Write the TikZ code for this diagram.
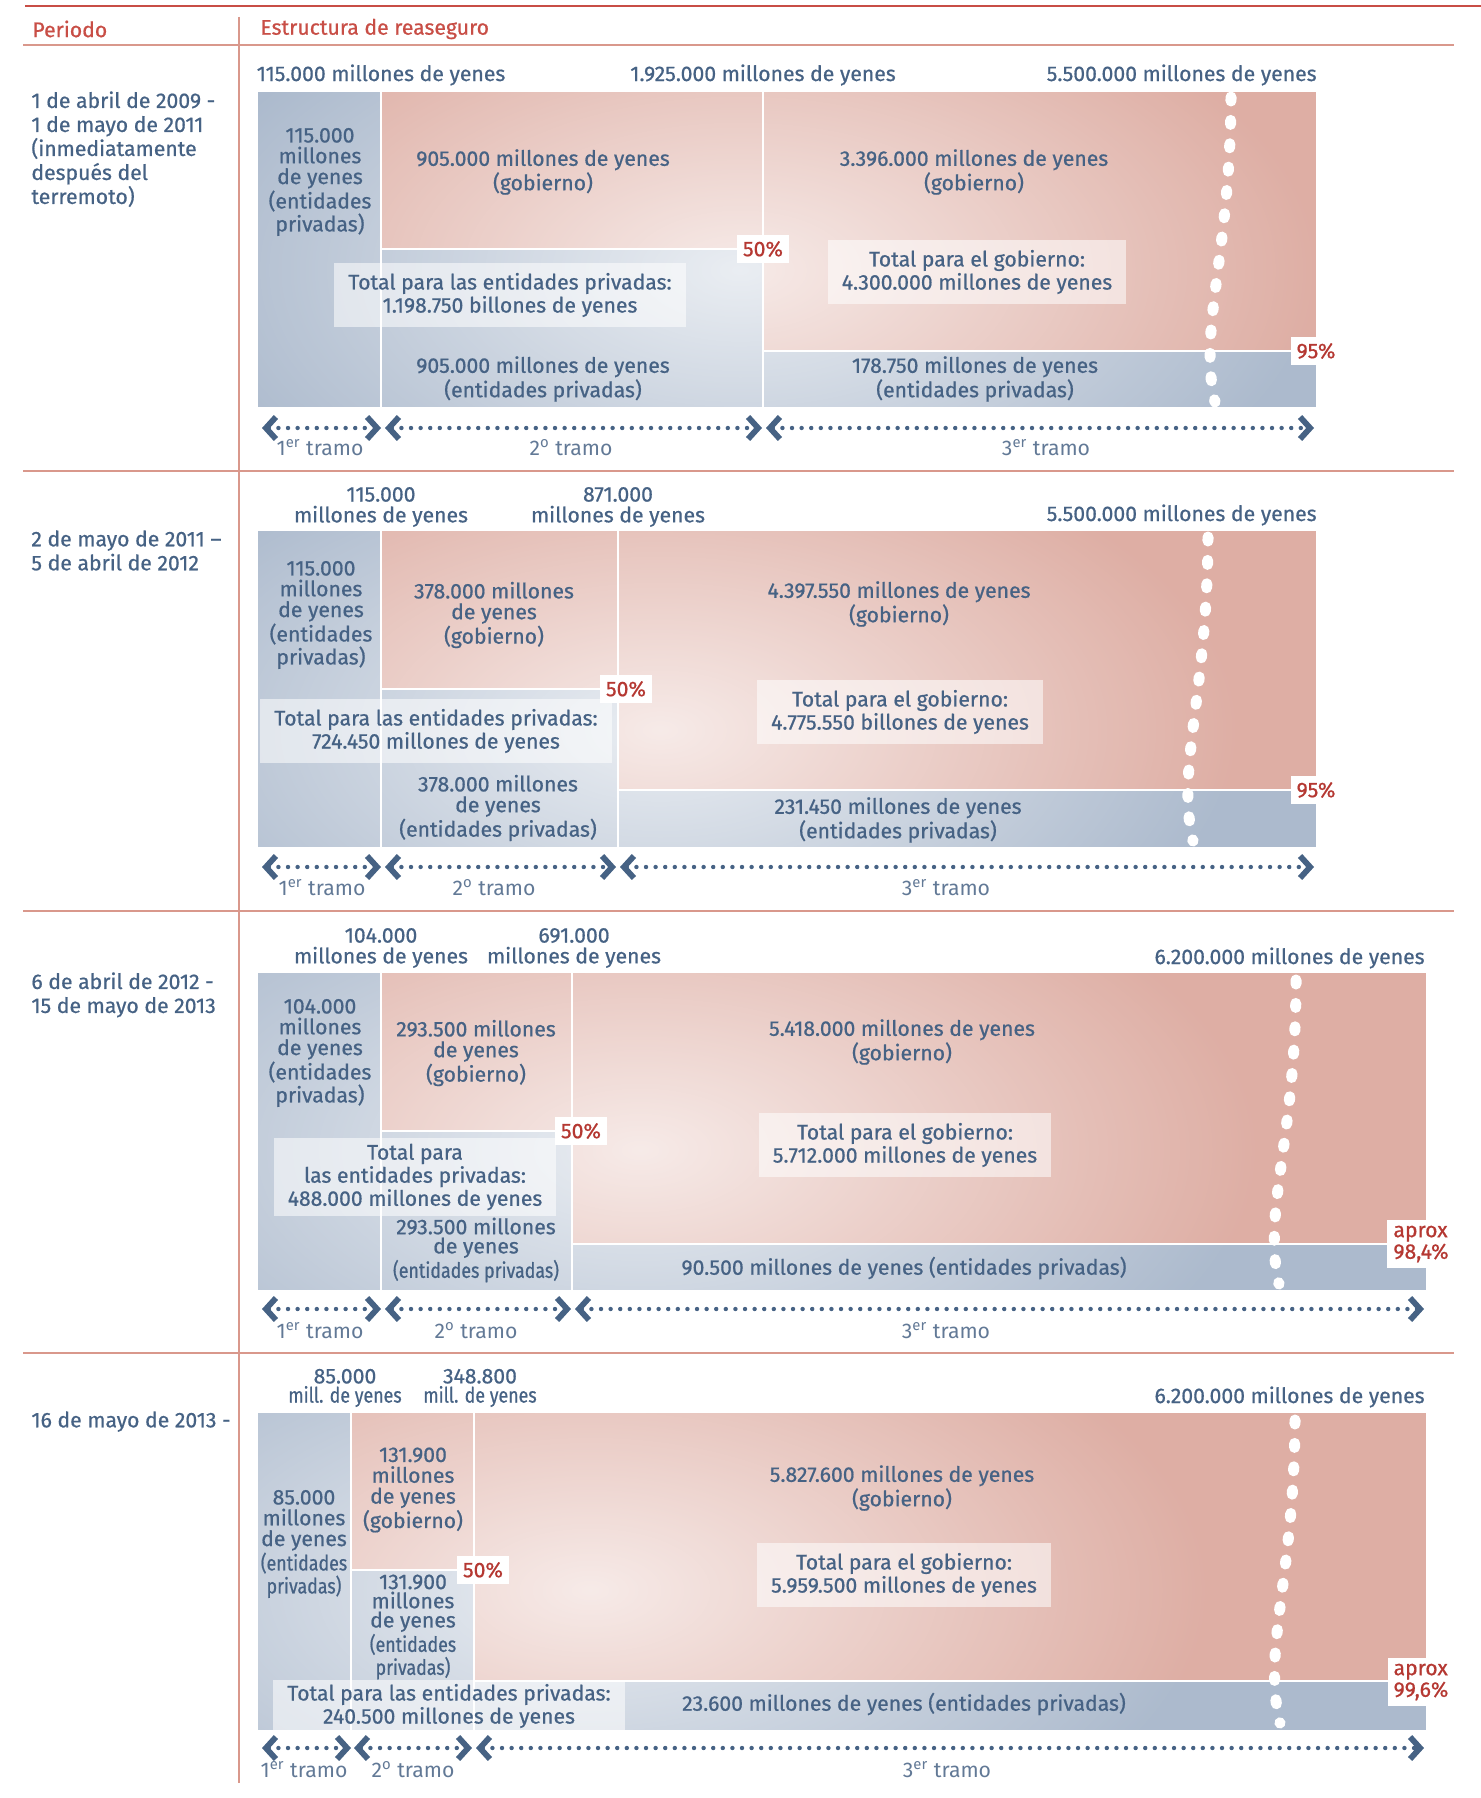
\documentclass[tikz,border=0pt]{standalone}
\usepackage{fontspec}
\setmainfont{Fira Sans}[FakeBold=0.7]
\newfontfamily\narrowfont{Fira Sans}[FakeStretch=0.84, FakeBold=0.7]
\newfontfamily\lightfont{Fira Sans}
\usetikzlibrary{arrows.meta}
\usetikzlibrary{fadings}
\definecolor{privblue}{RGB}{172,186,205}
\definecolor{govpink}{RGB}{222,174,164}
\definecolor{inkblue}{RGB}{70,98,132}
\definecolor{tramoblue}{RGB}{98,121,150}
\definecolor{pctred}{RGB}{181,56,50}
\definecolor{rulered}{RGB}{200,78,70}
\definecolor{rulepink}{RGB}{217,152,140}
\tikzfading[name=glow, inner color=transparent!25, outer color=transparent!100]
\tikzset{
  every node/.style={
    text=inkblue,
    inner sep=0pt,
  },
  txt/.style={
    align=center,
    font=\fontsize{10.6}{10.4}\selectfont,
  },
  tight/.style={
    txt,
    font=\fontsize{10.6}{9.6}\selectfont,
  },
  period/.style={
    align=left,
    anchor=north west,
    font=\fontsize{10.6}{12}\selectfont,
  },
  head/.style={
    anchor=west,
    text=rulered,
    font=\fontsize{10.6}{12}\selectfont,
  },
  totalbox/.style={
    txt,
    fill=white,
    fill opacity=.55,
    text opacity=1,
    inner xsep=7pt,
    inner ysep=5pt,
  },
  pct/.style={
    fill=white,
    text=pctred,
    inner xsep=3pt,
    inner ysep=3pt,
    font=\fontsize{10.6}{10}\selectfont,
  },
  approx/.style={
    pct,
    align=left,
    font=\fontsize{10.6}{9.4}\selectfont,
  },
  priv/.style={fill=privblue},
  gov/.style={fill=govpink},
  split/.style={draw=white, line width=1.3pt},
  dots/.style={
    draw=white,
    line width=5.5pt,
    line cap=round,
    dash pattern=on 2pt off 9.7pt,
  },
  span/.style={
    draw=inkblue,
    line width=2.2pt,
    line cap=round,
    dash pattern=on 0pt off 4.8pt,
    >={Straight Barb[length=5pt,width=11pt,line width=0.7pt 1]},
    <->,
  },
  tramo/.style={
    text=tramoblue,
    font=\lightfont\fontsize{10.6}{10}\selectfont,
  },
  rule/.style={draw=rulepink, line width=1.2pt},
}
\begin{document}
\begin{tikzpicture}[x=0.5pt, y=-0.5pt]
  \useasboundingbox (0,0) rectangle (1481,1798);
  % header
  \draw[rulered, line width=0.8pt] (25,6) -- (1481,6);
  \node[head] (hper) at (32,29) {Periodo};
  \node[head] (hest) at (260,29) {Estructura de reaseguro};
  \draw[rule] (23,45) -- (1454,45) (23,471) -- (1454,471)
    (23,911) -- (1454,911) (23,1353) -- (1454,1353);
  \draw[rule] (239,17) -- (239,1783);

  % 2009 - 2011
  \node[period] (per1) at (31,91) {1 de abril de 2009 -\\1 de mayo de 2011\\(inmediatamente\\después del\\terremoto)};
  \fill[priv] (258,92) rectangle (1316,407);
  \fill[gov] (381,92) rectangle (763,249);
  \fill[gov] (763,92) rectangle (1316,351);
  \begin{scope}
    \clip (258,92) rectangle (1316,407);
    \fill[white, path fading=glow] (740,270) ellipse (580 and 310);
  \end{scope}
  \draw[split] (381,92) -- (381,407) (763,92) -- (763,407)
    (381,249) -- (763,249) (763,351) -- (1316,351);
  \node[txt] (top1a) at (381,75) {115.000 millones de yenes};
  \node[txt] (top1b) at (763,75) {1.925.000 millones de yenes};
  \node[txt, anchor=east] (top1c) at (1317,75) {5.500.000 millones de yenes};
  \node[txt] (priv1a) at (320,182) {115.000\\millones\\de yenes\\(entidades\\privadas)};
  \node[txt] (gov1b) at (543,172) {905.000 millones de yenes\\(gobierno)};
  \node[totalbox] (tot1p) at (510,295) {Total para las entidades privadas:\\1.198.750 billones de yenes};
  \node[txt] (priv1b) at (543,379) {905.000 millones de yenes\\(entidades privadas)};
  \node[txt] (gov1c) at (974,172) {3.396.000 millones de yenes\\(gobierno)};
  \node[totalbox] (tot1g) at (977,272) {Total para el gobierno:\\4.300.000 millones de yenes};
  \node[txt] (priv1c) at (975,379) {178.750 millones de yenes\\(entidades privadas)};
  \draw[dots] (1231,97) .. controls (1230,258) and (1198,329) .. (1215,402);
  \node[pct] (pc1a) at (763,249) {50\%};
  \node[pct] (pc1b) at (1316,351) {95\%};
  \coordinate (s1a) at (262,428);
  \coordinate (s1b) at (381,428);
  \coordinate (s1c) at (385,428);
  \coordinate (s1d) at (762,428);
  \coordinate (s1e) at (766,428);
  \coordinate (s1f) at (1314,428);
  \draw[span] (s1a) -- (s1b);
  \draw[span] (s1c) -- (s1d);
  \draw[span] (s1e) -- (s1f);
  \node[tramo] (tr1a) at (320,448) {1\textsuperscript{er} tramo};
  \node[tramo] (tr1b) at (571,448) {2\textsuperscript{o} tramo};
  \node[tramo] (tr1c) at (1046,448) {3\textsuperscript{er} tramo};

  % 2011 - 2012
  \node[period] (per2) at (31,530) {2 de mayo de 2011 –\\5 de abril de 2012};
  \fill[priv] (258,531) rectangle (1316,847);
  \fill[gov] (381,531) rectangle (618,689);
  \fill[gov] (618,531) rectangle (1316,790);
  \begin{scope}
    \clip (258,531) rectangle (1316,847);
    \fill[white, path fading=glow] (660,730) ellipse (580 and 310);
  \end{scope}
  \draw[split] (381,531) -- (381,847) (618,531) -- (618,847)
    (381,689) -- (618,689) (618,790) -- (1316,790);
  \node[txt] (top2a) at (381,507) {115.000\\millones de yenes};
  \node[txt] (top2b) at (618,507) {871.000\\millones de yenes};
  \node[txt, anchor=east] (top2c) at (1317,515) {5.500.000 millones de yenes};
  \node[txt] (priv2a) at (321,615) {115.000\\millones\\de yenes\\(entidades\\privadas)};
  \node[txt] (gov2b) at (494,615) {378.000 millones\\de yenes\\(gobierno)};
  \node[totalbox] (tot2p) at (436,731) {Total para las entidades privadas:\\724.450 millones de yenes};
  \node[txt] (priv2b) at (498,808) {378.000 millones\\de yenes\\(entidades privadas)};
  \node[txt] (gov2c) at (899,604) {4.397.550 millones de yenes\\(gobierno)};
  \node[totalbox] (tot2g) at (900,712) {Total para el gobierno:\\4.775.550 billones de yenes};
  \node[txt] (priv2c) at (898,820) {231.450 millones de yenes\\(entidades privadas)};
  \draw[dots] (1208,537) .. controls (1207,698) and (1176,768) .. (1193,841);
  \node[pct] (pc2a) at (626,689) {50\%};
  \node[pct] (pc2b) at (1316,790) {95\%};
  \coordinate (s2a) at (262,867);
  \coordinate (s2b) at (381,867);
  \coordinate (s2c) at (385,867);
  \coordinate (s2d) at (616,867);
  \coordinate (s2e) at (620,867);
  \coordinate (s2f) at (1314,867);
  \draw[span] (s2a) -- (s2b);
  \draw[span] (s2c) -- (s2d);
  \draw[span] (s2e) -- (s2f);
  \node[tramo] (tr2a) at (322,888) {1\textsuperscript{er} tramo};
  \node[tramo] (tr2b) at (494,888) {2\textsuperscript{o} tramo};
  \node[tramo] (tr2c) at (946,888) {3\textsuperscript{er} tramo};

  % 2012 - 2013
  \node[period] (per3) at (31,972) {6 de abril de 2012 -\\15 de mayo de 2013};
  \fill[priv] (258,973) rectangle (1426,1290);
  \fill[gov] (381,973) rectangle (572,1131);
  \fill[gov] (572,973) rectangle (1426,1244);
  \begin{scope}
    \clip (258,973) rectangle (1426,1290);
    \fill[white, path fading=glow] (640,1150) ellipse (620 and 320);
  \end{scope}
  \draw[split] (381,973) -- (381,1290) (572,973) -- (572,1290)
    (381,1131) -- (572,1131) (572,1244) -- (1426,1244);
  \node[txt] (top3a) at (381,948) {104.000\\millones de yenes};
  \node[txt] (top3b) at (574,948) {691.000\\millones de yenes};
  \node[txt, anchor=east] (top3c) at (1425,958) {6.200.000 millones de yenes};
  \node[txt] (priv3a) at (320,1053) {104.000\\millones\\de yenes\\(entidades\\privadas)};
  \node[txt] (gov3b) at (476,1053) {293.500 millones\\de yenes\\(gobierno)};
  \node[totalbox, font=\fontsize{10.6}{9.6}\selectfont, inner ysep=3pt] (tot3p) at (415,1177) {Total para\\las entidades privadas:\\488.000 millones de yenes};
  \node[tight] (priv3b) at (476,1250) {293.500 millones\\de yenes\\{\narrowfont(entidades privadas)}};
  \node[txt] (gov3c) at (902,1042) {5.418.000 millones de yenes\\(gobierno)};
  \node[totalbox] (tot3g) at (905,1145) {Total para el gobierno:\\5.712.000 millones de yenes};
  \node[txt] (priv3c) at (904,1268) {90.500 millones de yenes (entidades privadas)};
  \draw[dots] (1296,980) .. controls (1296,1141) and (1262,1211) .. (1279,1284);
  \node[pct] (pc3a) at (581,1131) {50\%};
  \node[approx] (pc3b) at (1421,1244) {aprox\\98,4\%};
  \coordinate (s3a) at (262,1309);
  \coordinate (s3b) at (381,1309);
  \coordinate (s3c) at (385,1309);
  \coordinate (s3d) at (571,1309);
  \coordinate (s3e) at (575,1309);
  \coordinate (s3f) at (1424,1309);
  \draw[span] (s3a) -- (s3b);
  \draw[span] (s3c) -- (s3d);
  \draw[span] (s3e) -- (s3f);
  \node[tramo] (tr3a) at (320,1331) {1\textsuperscript{er} tramo};
  \node[tramo] (tr3b) at (476,1331) {2\textsuperscript{o} tramo};
  \node[tramo] (tr3c) at (946,1331) {3\textsuperscript{er} tramo};

  % 2013 -
  \node[period] (per4) at (31,1411) {16 de mayo de 2013 -};
  \fill[priv] (258,1413) rectangle (1426,1730);
  \fill[gov] (351,1413) rectangle (474,1570);
  \fill[gov] (474,1413) rectangle (1426,1681);
  \begin{scope}
    \clip (258,1413) rectangle (1426,1730);
    \fill[white, path fading=glow] (590,1590) ellipse (620 and 320);
  \end{scope}
  \draw[split] (351,1413) -- (351,1730) (474,1413) -- (474,1730)
    (351,1570) -- (474,1570) (474,1681) -- (1426,1681);
  \node[tight] (top4a) at (345,1388) {85.000\\{\narrowfont mill. de yenes}};
  \node[tight] (top4b) at (480,1388) {348.800\\{\narrowfont mill. de yenes}};
  \node[txt, anchor=east] (top4c) at (1425,1397) {6.200.000 millones de yenes};
  \node[txt] (priv4a) at (304,1544) {85.000\\millones\\de yenes\\{\narrowfont(entidades}\\{\narrowfont privadas)}};
  \node[txt] (gov4b) at (413,1490) {131.900\\millones\\de yenes\\(gobierno)};
  \node[tight] (priv4b) at (413,1627) {131.900\\millones\\de yenes\\{\narrowfont(entidades}\\{\narrowfont privadas)}};
  \node[txt] (gov4c) at (902,1488) {5.827.600 millones de yenes\\(gobierno)};
  \node[totalbox] (tot4g) at (904,1575) {Total para el gobierno:\\5.959.500 millones de yenes};
  \node[totalbox, inner ysep=2pt, minimum width=175pt, minimum height=24pt] (tot4p) at (449,1706) {Total para las entidades privadas:\\240.500 millones de yenes};
  \node[txt] (priv4c) at (904,1704) {23.600 millones de yenes (entidades privadas)};
  \draw[dots] (1295,1420) .. controls (1294,1580) and (1262,1650) .. (1280,1723);
  \node[pct] (pc4a) at (483,1570) {50\%};
  \node[approx] (pc4b) at (1421,1682) {aprox\\99,6\%};
  \coordinate (s4a) at (262,1748);
  \coordinate (s4b) at (351,1748);
  \coordinate (s4c) at (354,1748);
  \coordinate (s4d) at (472,1748);
  \coordinate (s4e) at (476,1748);
  \coordinate (s4f) at (1424,1748);
  \draw[span] (s4a) -- (s4b);
  \draw[span] (s4c) -- (s4d);
  \draw[span] (s4e) -- (s4f);
  \node[tramo] (tr4a) at (304,1770) {1\textsuperscript{er} tramo};
  \node[tramo] (tr4b) at (413,1770) {2\textsuperscript{o} tramo};
  \node[tramo] (tr4c) at (947,1770) {3\textsuperscript{er} tramo};
\end{tikzpicture}
\end{document}
